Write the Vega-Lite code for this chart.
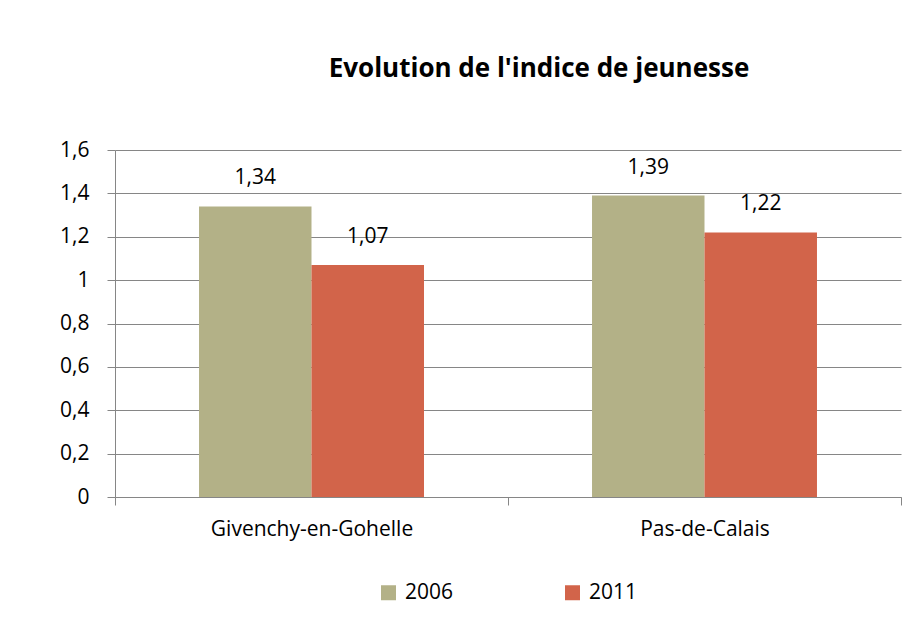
{
  "$schema": "https://vega.github.io/schema/vega-lite/v6.json",
  "autosize": "none",
  "width": 786,
  "height": 347,
  "padding": {"left": 115, "top": 150, "right": 7, "bottom": 122},
  "background": "white",
  "config": {
    "locale": {"number": {"decimal": ",", "thousands": " ", "grouping": [3], "currency": ["", " €"]}},
    "font": "Open Sans",
    "view": {"stroke": null},
    "legend": {"layout": {"bottom": {"anchor": "middle"}}}
  },
  "title": {
    "text": "Evolution de l'indice de jeunesse",
    "fontSize": 26,
    "fontWeight": "bold",
    "color": "black",
    "font": "Open Sans",
    "anchor": "middle",
    "dx": 31,
    "offset": 57
  },
  "data": {
    "values": [
      {"commune": "Givenchy-en-Gohelle", "year": "2006", "value": 1.34},
      {"commune": "Givenchy-en-Gohelle", "year": "2011", "value": 1.07},
      {"commune": "Pas-de-Calais", "year": "2006", "value": 1.39},
      {"commune": "Pas-de-Calais", "year": "2011", "value": 1.22}
    ]
  },
  "encoding": {
    "x": {
      "field": "commune",
      "type": "nominal",
      "sort": ["Givenchy-en-Gohelle", "Pas-de-Calais"],
      "scale": {"paddingInner": 0, "paddingOuter": 0},
      "axis": {
        "title": null,
        "labelAngle": 0,
        "labelFontSize": 21,
        "labelLimit": 400,
        "labelColor": "black",
        "labelPadding": 13,
        "tickBand": "extent",
        "tickSize": 8,
        "tickColor": "#868686",
        "domainColor": "#868686",
        "grid": false
      }
    },
    "xOffset": {
      "field": "year",
      "type": "nominal",
      "scale": {"paddingInner": 0, "paddingOuter": 0.747}
    },
    "y": {
      "field": "value",
      "type": "quantitative",
      "scale": {"domain": [0, 1.6], "nice": false},
      "axis": {
        "title": null,
        "values": [0, 0.2, 0.4, 0.6, 0.8, 1, 1.2, 1.4, 1.6],
        "format": "~g",
        "labelFontSize": 21,
        "labelColor": "black",
        "labelPadding": 18,
        "tickSize": 8,
        "tickColor": "#868686",
        "domainColor": "#868686",
        "gridColor": "#868686",
        "grid": true
      }
    }
  },
  "layer": [
    {
      "mark": {"type": "bar"},
      "encoding": {
        "color": {
          "field": "year",
          "type": "nominal",
          "scale": {"domain": ["2006", "2011"], "range": ["#B3B187", "#D2644A"]},
          "legend": {
            "title": null,
            "orient": "bottom",
            "direction": "horizontal",
            "symbolType": "square",
            "symbolSize": 225,
            "symbolStrokeWidth": 0,
            "labelFontSize": 21,
            "labelColor": "black",
            "labelOffset": 6,
            "columnPadding": 108,
            "offset": 43
          }
        }
      }
    },
    {
      "mark": {"type": "text", "dy": -28, "fontSize": 21, "color": "black", "baseline": "middle"},
      "encoding": {
        "text": {"field": "value", "type": "quantitative", "format": ".2f"}
      }
    }
  ]
}
